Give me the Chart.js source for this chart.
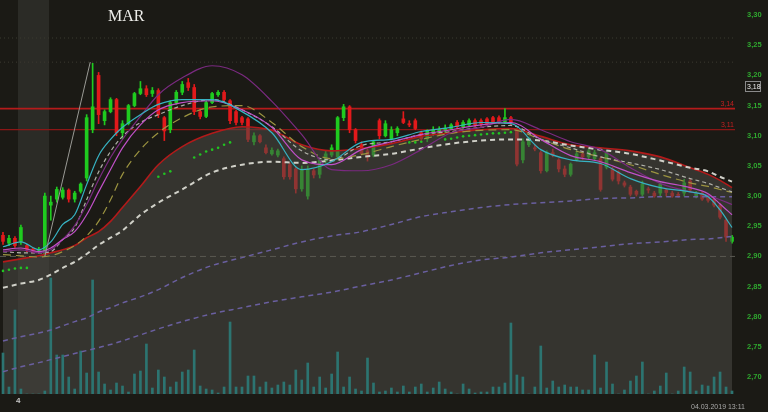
<!DOCTYPE html>
<html>
<head>
<meta charset="utf-8">
<script src="https://cdn.jsdelivr.net/npm/chart.js@4.4.1/dist/chart.umd.min.js"></script>
<style>
  body { margin: 0; background: #1b1a15; }
  #wrap { position: relative; width: 768px; height: 412px; overflow: hidden; }
  #title { position: absolute; left: 108px; top: 7px; font: 16px 'Liberation Serif', serif; color: #eeeeea; }
  #barNo { position: absolute; left: 16px; top: 396px; font: bold 8px 'Liberation Sans', sans-serif; color: #c8c8c8; }
  #stamp { position: absolute; left: 691px; top: 403px; font: 7px 'Liberation Sans', sans-serif; color: #a8a8a8; }
</style>
</head>
<body>
<div id="wrap">
  <canvas id="chart" width="768" height="412"></canvas>
  <div id="title">MAR</div>
  <div id="barNo">4</div>
  <div id="stamp">04.03.2019 13:11</div>
</div>
<script>
'use strict';
// one entry per bar
var opens = [2.935, 2.922, 2.930, 2.925, 2.918, 2.912, 2.910, 2.905, 2.985, 2.995,
  2.998, 3.010, 2.995, 3.008, 3.030, 3.110, 3.200, 3.125, 3.140, 3.160,
  3.105, 3.120, 3.150, 3.170, 3.178, 3.170, 3.175, 3.130, 3.110, 3.155,
  3.172, 3.188, 3.180, 3.140, 3.132, 3.155, 3.168, 3.172, 3.158, 3.140,
  3.130, 3.128, 3.090, 3.100, 3.080, 3.070, 3.068, 3.062, 3.052, 3.045,
  3.012, 3.000, 3.042, 3.036, 3.058, 3.068, 3.065, 3.130, 3.148, 3.110,
  3.085, 3.075, 3.068, 3.125, 3.100, 3.095, 3.105, 3.128, 3.120, 3.125,
  3.105, 3.095, 3.105, 3.102, 3.110, 3.112, 3.122, 3.115, 3.118, 3.125,
  3.125, 3.128, 3.130, 3.130, 3.123, 3.130, 3.110, 3.060, 3.085, 3.080,
  3.072, 3.042, 3.072, 3.060, 3.045, 3.036, 3.060, 3.070, 3.065, 3.062,
  3.062, 3.048, 3.045, 3.040, 3.022, 3.015, 3.008, 3.003, 3.012, 3.005,
  3.005, 3.010, 3.005, 3.003, 3.005, 3.025, 3.000, 3.005, 3.000, 2.995,
  2.985, 2.960, 2.925];
var highs = [2.940, 2.935, 2.933, 2.952, 2.920, 2.914, 2.915, 3.005, 3.000, 3.015,
  3.014, 3.012, 3.008, 3.022, 3.135, 3.220, 3.205, 3.143, 3.163, 3.162,
  3.125, 3.152, 3.172, 3.190, 3.183, 3.180, 3.178, 3.132, 3.158, 3.175,
  3.190, 3.195, 3.185, 3.145, 3.158, 3.172, 3.175, 3.175, 3.160, 3.142,
  3.132, 3.130, 3.105, 3.102, 3.085, 3.080, 3.078, 3.065, 3.055, 3.048,
  3.050, 3.050, 3.045, 3.062, 3.075, 3.085, 3.132, 3.152, 3.150, 3.112,
  3.090, 3.078, 3.092, 3.128, 3.125, 3.115, 3.115, 3.140, 3.125, 3.128,
  3.108, 3.110, 3.115, 3.115, 3.118, 3.120, 3.125, 3.125, 3.128, 3.128,
  3.128, 3.130, 3.132, 3.133, 3.145, 3.132, 3.112, 3.095, 3.098, 3.085,
  3.075, 3.075, 3.078, 3.062, 3.050, 3.055, 3.075, 3.075, 3.078, 3.076,
  3.065, 3.075, 3.048, 3.042, 3.025, 3.018, 3.010, 3.025, 3.015, 3.008,
  3.023, 3.012, 3.008, 3.006, 3.028, 3.028, 3.008, 3.008, 3.002, 2.998,
  2.988, 2.962, 2.935];
var lows = [2.920, 2.918, 2.915, 2.920, 2.908, 2.906, 2.906, 2.900, 2.960, 2.990,
  2.995, 2.990, 2.990, 3.005, 3.025, 3.105, 3.120, 3.118, 3.138, 3.100,
  3.095, 3.118, 3.148, 3.168, 3.165, 3.165, 3.130, 3.092, 3.105, 3.152,
  3.168, 3.175, 3.135, 3.128, 3.130, 3.153, 3.165, 3.158, 3.120, 3.118,
  3.118, 3.090, 3.085, 3.088, 3.070, 3.068, 3.065, 3.028, 3.028, 3.005,
  3.008, 2.995, 3.030, 3.030, 3.055, 3.065, 3.060, 3.125, 3.105, 3.088,
  3.068, 3.058, 3.065, 3.095, 3.098, 3.093, 3.100, 3.120, 3.115, 3.110,
  3.092, 3.090, 3.100, 3.100, 3.105, 3.110, 3.112, 3.112, 3.115, 3.115,
  3.116, 3.118, 3.120, 3.120, 3.120, 3.118, 3.050, 3.055, 3.082, 3.075,
  3.038, 3.040, 3.065, 3.040, 3.032, 3.033, 3.058, 3.060, 3.062, 3.060,
  3.008, 3.045, 3.025, 3.020, 3.015, 3.000, 3.000, 3.000, 3.005, 2.998,
  3.000, 3.000, 2.998, 2.998, 3.000, 3.008, 2.997, 2.993, 2.990, 2.982,
  2.962, 2.925, 2.922];
var closes = [2.925, 2.930, 2.918, 2.948, 2.912, 2.910, 2.912, 3.000, 2.990, 3.011,
  3.010, 2.995, 3.005, 3.020, 3.130, 3.148, 3.135, 3.140, 3.160, 3.105,
  3.120, 3.150, 3.170, 3.178, 3.168, 3.175, 3.135, 3.108, 3.155, 3.172,
  3.185, 3.180, 3.140, 3.132, 3.155, 3.170, 3.172, 3.160, 3.125, 3.122,
  3.122, 3.094, 3.100, 3.090, 3.072, 3.076, 3.075, 3.032, 3.032, 3.012,
  3.044, 3.044, 3.035, 3.060, 3.070, 3.080, 3.130, 3.148, 3.110, 3.092,
  3.070, 3.065, 3.090, 3.100, 3.120, 3.110, 3.112, 3.122, 3.118, 3.112,
  3.095, 3.108, 3.110, 3.110, 3.112, 3.118, 3.115, 3.122, 3.125, 3.118,
  3.120, 3.120, 3.122, 3.123, 3.130, 3.122, 3.053, 3.090, 3.095, 3.078,
  3.042, 3.072, 3.068, 3.045, 3.036, 3.053, 3.070, 3.065, 3.075, 3.072,
  3.011, 3.072, 3.028, 3.025, 3.018, 3.003, 3.003, 3.020, 3.010, 3.000,
  3.020, 3.006, 3.000, 3.001, 3.022, 3.010, 3.005, 2.995, 2.993, 2.985,
  2.965, 2.932, 2.932];
// volume, thousands
var volumes = [41, 7, 84, 5, 0, 0, 0, 3, 116, 39,
  39, 17, 5, 43, 21, 114, 22, 10, 4, 11,
  8, 2, 20, 23, 50, 6, 24, 17, 7, 12,
  22, 24, 44, 8, 5, 4, 1, 7, 72, 7,
  7, 18, 18, 7, 12, 6, 9, 12, 9, 24,
  14, 31, 7, 17, 6, 20, 42, 7, 17, 5,
  3, 36, 11, 2, 3, 6, 2, 8, 2, 7,
  10, 2, 6, 12, 5, 2, 0, 10, 5, 1,
  2, 2, 7, 7, 11, 71, 19, 17, 0, 7,
  48, 6, 13, 7, 9, 7, 7, 4, 4, 39,
  6, 32, 10, 0, 4, 13, 18, 32, 0, 3,
  8, 21, 0, 3, 27, 22, 3, 9, 8, 17,
  22, 7, 3];

// indicator lines, read at these bars
var maBars = [0, 3, 6, 8, 10, 12, 14, 16, 18, 20, 23, 26, 30, 35, 40, 45, 50, 55, 60, 65, 70, 75, 80, 85, 90, 95, 100, 105, 110, 115, 118, 120, 122];
var cloudLow = [2.891, 2.896, 2.901, 2.906, 2.911, 2.918, 2.931, 2.941, 2.958, 2.981, 3.016, 3.052, 3.082, 3.104, 3.115, 3.109, 3.085, 3.075, 3.079, 3.087, 3.099, 3.105, 3.110, 3.112, 3.099, 3.085, 3.080, 3.075, 3.065, 3.047, 3.036, 3.026, 3.014];
var fastMa = [2.916, 2.924, 2.911, 2.924, 2.953, 2.969, 3.019, 3.067, 3.094, 3.114, 3.135, 3.152, 3.160, 3.160, 3.140, 3.105, 3.044, 3.057, 3.089, 3.094, 3.107, 3.114, 3.122, 3.120, 3.077, 3.060, 3.054, 3.029, 3.014, 3.007, 2.999, 2.977, 2.948];
var midMa = [2.911, 2.914, 2.908, 2.914, 2.928, 2.941, 2.969, 3.007, 3.044, 3.080, 3.118, 3.143, 3.155, 3.158, 3.143, 3.114, 3.060, 3.052, 3.077, 3.090, 3.102, 3.110, 3.118, 3.122, 3.094, 3.067, 3.057, 3.039, 3.024, 3.014, 3.004, 2.987, 2.969];
var upperBand = [2.908, 2.911, 2.906, 2.911, 2.928, 2.951, 2.986, 3.027, 3.064, 3.094, 3.132, 3.168, 3.196, 3.216, 3.201, 3.157, 3.102, 3.044, 3.042, 3.052, 3.077, 3.105, 3.114, 3.127, 3.110, 3.090, 3.077, 3.047, 3.021, 3.007, 3.001, 2.994, 2.986];
var ma20 = [2.908, 2.906, 2.906, 2.908, 2.928, 2.948, 2.994, 3.040, 3.074, 3.099, 3.122, 3.135, 3.150, 3.160, 3.143, 3.115, 3.075, 3.060, 3.084, 3.090, 3.102, 3.107, 3.114, 3.117, 3.094, 3.080, 3.065, 3.055, 3.044, 3.029, 3.021, 3.014, 3.007];
var ma50 = [2.903, 2.901, 2.899, 2.901, 2.908, 2.918, 2.934, 2.958, 2.994, 3.036, 3.077, 3.105, 3.130, 3.148, 3.150, 3.122, 3.082, 3.062, 3.069, 3.082, 3.094, 3.104, 3.109, 3.110, 3.094, 3.077, 3.065, 3.052, 3.036, 3.022, 3.016, 3.011, 3.006];
var ma100 = [2.848, 2.855, 2.861, 2.870, 2.881, 2.891, 2.904, 2.919, 2.931, 2.943, 2.969, 2.989, 3.011, 3.039, 3.052, 3.057, 3.055, 3.059, 3.065, 3.070, 3.079, 3.087, 3.092, 3.094, 3.092, 3.084, 3.077, 3.070, 3.059, 3.047, 3.041, 3.032, 3.024];
var ma200 = [2.760, 2.767, 2.773, 2.778, 2.785, 2.792, 2.798, 2.808, 2.815, 2.823, 2.833, 2.845, 2.865, 2.885, 2.898, 2.911, 2.924, 2.934, 2.941, 2.953, 2.966, 2.974, 2.981, 2.986, 2.989, 2.992, 2.996, 2.997, 2.999, 2.999, 2.999, 2.999, 2.999];
var ma300 = [2.709, 2.717, 2.724, 2.729, 2.734, 2.739, 2.744, 2.749, 2.754, 2.760, 2.770, 2.780, 2.792, 2.805, 2.815, 2.825, 2.833, 2.841, 2.851, 2.861, 2.873, 2.885, 2.894, 2.899, 2.906, 2.911, 2.916, 2.921, 2.924, 2.928, 2.929, 2.931, 2.933];

// parabolic sar dots
var sarBars = [0, 1, 2, 3, 4, 26, 27, 28, 32, 33, 34, 35, 36, 37, 38, 68, 69, 70, 74, 75, 76, 77, 78, 79, 80, 81, 82, 83, 84, 85];
var sarValues = [2.876, 2.878, 2.880, 2.881, 2.881, 3.032, 3.037, 3.041, 3.064, 3.069, 3.074, 3.077, 3.080, 3.085, 3.089, 3.089, 3.089, 3.090, 3.094, 3.095, 3.097, 3.099, 3.100, 3.101, 3.102, 3.103, 3.104, 3.104, 3.105, 3.106];

var trendBars = [7, 14.6];
var trendValues = [2.900, 3.222];
var levels = [3.145, 3.11];
var levelLabels = ['3,14', '3,11'];
var dottedLevels = [3.262, 3.222];
var baseLevel = 2.90;
var lastPrice = 3.18;
var yTicks = [2.70, 2.75, 2.80, 2.85, 2.90, 2.95, 3.00, 3.05, 3.10, 3.15, 3.20, 3.25, 3.30];
var shadeFrom = 2.5, shadeTo = 7.7;

var upColor = '#1fcb1f', downColor = '#e2191b';
var xMin = -0.5, xMax = opens.length - 0.5;

var bars = opens.map(function (o, i) { return i; });
var candleColors = bars.map(function (i) { return closes[i] >= opens[i] ? upColor : downColor; });

function maLine(values, color, width, dash, order) {
  return {
    type: 'line',
    data: maBars.map(function (b, k) { return {x: b, y: values[k]}; }),
    borderColor: color,
    borderWidth: width,
    borderDash: dash || [],
    pointRadius: 0,
    cubicInterpolationMode: 'monotone',
    fill: false,
    order: order || 5
  };
}
function flatLine(value, color, width, dash, order) {
  return {
    type: 'line',
    data: [{x: xMin, y: value}, {x: xMax, y: value}],
    borderColor: color,
    borderWidth: width,
    borderDash: dash || [],
    pointRadius: 0,
    fill: false,
    order: order
  };
}

var cloud = maLine(cloudLow, '#b21a1a', 1.6, [], 15);
cloud.fill = 'start';
cloud.backgroundColor = 'rgba(75,74,69,0.55)';

var datasets = [
  flatLine(dottedLevels[0], '#3b3a31', 1, [1, 3], 30),
  flatLine(dottedLevels[1], '#3b3a31', 1, [1, 3], 30),
  flatLine(levels[0], '#b51b1b', 1.6, [], 25),
  flatLine(levels[1], '#8c1616', 1.2, [], 25),
  {
    type: 'bar',
    data: bars.map(function (i) { return {x: i, y: [lows[i], highs[i]]}; }),
    backgroundColor: candleColors,
    barThickness: 1,
    grouped: false,
    order: 20
  },
  {
    type: 'bar',
    data: bars.map(function (i) { return {x: i, y: [opens[i], closes[i]]}; }),
    backgroundColor: candleColors,
    barThickness: 3,
    minBarLength: 1,
    grouped: false,
    order: 19
  },
  cloud,
  flatLine(baseLevel, '#5a5953', 1, [6, 4], 12),
  {
    type: 'bar',
    yAxisID: 'yv',
    data: bars.map(function (i) { return {x: i, y: volumes[i]}; }),
    backgroundColor: '#2c7471',
    barThickness: 2,
    grouped: false,
    order: 11
  },
  maLine(ma300, '#6a5fa0', 1.5, [5, 4], 10),
  maLine(ma200, '#6a5fa0', 1.5, [5, 4], 10),
  maLine(ma100, '#d0d0c8', 2, [5, 4], 9),
  maLine(ma50, '#9c9440', 1.2, [8, 5], 8),
  maLine(ma20, '#b0b0a8', 1.2, [4, 3], 7),
  maLine(upperBand, '#7a2a80', 1.2, [], 6),
  maLine(midMa, '#c050c8', 1.2, [], 5),
  maLine(fastMa, '#37b3c3', 1.2, [], 4),
  {
    type: 'line',
    data: trendBars.map(function (b, k) { return {x: b, y: trendValues[k]}; }),
    borderColor: '#9a9a95',
    borderWidth: 1,
    pointRadius: 0,
    order: 3
  },
  {
    type: 'line',
    data: sarBars.map(function (b, k) { return {x: b, y: sarValues[k]}; }),
    showLine: false,
    pointRadius: 1.3,
    pointBorderWidth: 0,
    pointBackgroundColor: '#22c422',
    order: 2
  }
];

// highlighted bars stripe
var stripePlugin = {
  id: 'stripe',
  beforeDatasetsDraw: function (chart) {
    var ctx = chart.ctx, a = chart.chartArea, x = chart.scales.x;
    var x1 = x.getPixelForValue(shadeFrom), x2 = x.getPixelForValue(shadeTo);
    ctx.save();
    ctx.fillStyle = 'rgba(255,255,255,0.075)';
    ctx.fillRect(x1, a.top, x2 - x1, a.bottom - a.top);
    ctx.restore();
  }
};

// level labels and last price box
var marksPlugin = {
  id: 'marks',
  afterDraw: function (chart) {
    var ctx = chart.ctx, a = chart.chartArea, y = chart.scales.y;
    ctx.save();
    ctx.font = '7px "Liberation Sans", sans-serif';
    ctx.fillStyle = '#c42020';
    ctx.textAlign = 'right';
    ctx.textBaseline = 'bottom';
    levels.forEach(function (v, k) {
      ctx.fillText(levelLabels[k], a.right - 1, y.getPixelForValue(v) - 1.5);
    });
    var py = Math.round(y.getPixelForValue(lastPrice));
    ctx.strokeStyle = '#8a8a8a';
    ctx.lineWidth = 1;
    ctx.strokeRect(a.right + 10.5, py - 5.5, 15, 10);
    ctx.fillStyle = '#e8e8e8';
    ctx.textAlign = 'left';
    ctx.textBaseline = 'middle';
    ctx.fillText(lastPrice.toFixed(2).replace('.', ','), a.right + 12, py);
    ctx.restore();
  }
};

new Chart(document.getElementById('chart'), {
  type: 'bar',
  data: {datasets: datasets},
  options: {
    responsive: false,
    animation: false,
    devicePixelRatio: 1,
    layout: {autoPadding: false, padding: {left: 0, top: 0, right: 0, bottom: 18}},
    plugins: {legend: {display: false}, tooltip: {enabled: false}},
    scales: {
      x: {type: 'linear', min: xMin, max: xMax, offset: false, display: false},
      y: {
        position: 'right',
        min: 2.672,
        max: 3.325,
        grid: {display: false, drawTicks: false},
        border: {display: false},
        afterBuildTicks: function (s) { s.ticks = yTicks.map(function (v) { return {value: v}; }); },
        afterFit: function (s) { s.width = 33; s.paddingTop = 0; s.paddingBottom = 0; },
        ticks: {
          color: '#2fa82f',
          padding: 12,
          font: {family: 'Liberation Sans', size: 7.5, weight: 'bold'},
          callback: function (v) { return v.toFixed(2).replace('.', ','); }
        }
      },
      yv: {display: false, min: 0, max: 394}
    }
  },
  plugins: [stripePlugin, marksPlugin]
});
</script>
</body>
</html>
